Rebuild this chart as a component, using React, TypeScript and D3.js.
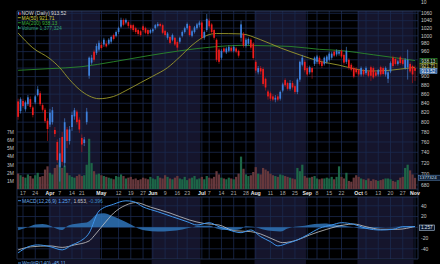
import React from 'react';
import * as d3 from 'd3';

const W = 440;
const H = 264;

const START = '2025-03-13';
const HOLIDAYS = ['2025-04-18', '2025-05-26', '2025-06-19', '2025-07-04', '2025-09-01'];

const opens = [
  844, 823, 845, 827, 838, 849, 831, 842, 858, 862,
  836, 826, 803, 795, 800, 784, 760, 712, 770, 720,
  785, 762, 790, 812, 822, 805, 768, 758, 800, 902,
  933, 960, 957, 965, 977, 978, 980, 980, 985, 1002,
  1000, 1010, 1024, 1042, 1035, 1036, 1028, 1028, 1020, 1015,
  1012, 1025, 1020, 1015, 1008, 1012, 1020, 1026, 1031, 1028,
  1013, 995, 997, 990, 995, 984, 985, 1000, 1010, 1020,
  1026, 1000, 1010, 1020, 1028, 1035, 995, 1015, 1040, 1030,
  1015, 990, 965, 945, 968, 958, 962, 970, 962, 968,
  962, 995, 1005, 975, 980, 990, 980, 935, 910, 920,
  918, 895, 866, 862, 855, 848, 855, 850, 868, 892,
  885, 872, 885, 878, 865, 893, 928, 935, 920, 910,
  920, 930, 935, 945, 935, 930, 935, 940, 945, 960,
  953, 955, 962, 952, 935, 940, 928, 920, 918, 915,
  905, 915, 908, 912, 922, 920, 910, 905, 922, 920,
  905, 895, 912, 945, 942, 930, 946, 940, 920, 922,
  930, 925, 920,
];
const highs = [
  850, 853, 850, 846, 858, 855, 835, 858, 878, 867,
  840, 830, 808, 828, 832, 790, 765, 768, 780, 808,
  790, 792, 822, 830, 826, 810, 775, 770, 830, 948,
  952, 965, 980, 988, 985, 995, 988, 994, 1000, 1006,
  1014, 1024, 1048, 1046, 1046, 1040, 1032, 1032, 1024, 1018,
  1016, 1030, 1024, 1018, 1018, 1020, 1031, 1036, 1035, 1032,
  1016, 1010, 1000, 1006, 998, 988, 998, 1014, 1024, 1035,
  1030, 1016, 1026, 1034, 1040, 1040, 1014, 1058, 1046, 1034,
  1018, 994, 970, 966, 972, 972, 976, 974, 976, 972,
  965, 1040, 1010, 994, 996, 994, 984, 940, 925, 925,
  922, 898, 870, 866, 860, 858, 860, 868, 886, 896,
  888, 892, 890, 882, 896, 938, 952, 940, 925, 926,
  924, 948, 952, 950, 940, 948, 952, 960, 960, 964,
  966, 964, 966, 956, 972, 944, 932, 924, 922, 918,
  924, 918, 924, 916, 926, 924, 914, 918, 926, 924,
  924, 914, 936, 950, 946, 940, 950, 944, 944, 965,
  934, 928, 926,
];
const lows = [
  805, 818, 830, 822, 834, 828, 810, 838, 855, 834,
  822, 798, 762, 790, 795, 770, 720, 686, 715, 712,
  748, 755, 782, 805, 795, 778, 740, 752, 795, 895,
  928, 935, 952, 960, 965, 972, 970, 976, 980, 988,
  996, 1005, 1020, 1025, 1030, 1020, 1015, 1010, 1005, 1000,
  998, 1010, 1004, 1000, 1004, 1008, 1016, 1022, 1022, 1004,
  998, 990, 978, 986, 974, 962, 980, 996, 1006, 1016,
  998, 996, 1006, 1016, 1022, 990, 990, 1010, 1020, 1005,
  990, 935, 930, 940, 956, 954, 958, 958, 958, 956,
  945, 985, 970, 970, 976, 965, 940, 908, 905, 905,
  878, 868, 848, 845, 844, 842, 844, 846, 864, 876,
  868, 868, 870, 860, 860, 888, 924, 910, 900, 905,
  895, 925, 930, 926, 920, 926, 930, 936, 940, 946,
  948, 950, 944, 928, 930, 916, 912, 896, 906, 900,
  900, 900, 904, 898, 890, 894, 898, 900, 900, 902,
  900, 885, 908, 920, 926, 926, 928, 926, 916, 893,
  908, 885, 890,
];
const closes = [
  811, 849, 834, 842, 853, 832, 815, 855, 871, 838,
  826, 802, 786, 820, 825, 776, 725, 738, 722, 800,
  762, 785, 815, 825, 800, 785, 755, 765, 822, 945,
  945, 940, 974, 982, 969, 990, 973, 990, 997, 992,
  1010, 1020, 1042, 1029, 1042, 1026, 1020, 1015, 1010, 1005,
  1002, 1015, 1008, 1005, 1015, 1017, 1028, 1031, 1026, 1008,
  1002, 1006, 982, 1002, 978, 970, 995, 1010, 1020, 1031,
  1002, 1012, 1022, 1030, 1035, 995, 1010, 1045, 1025, 1010,
  995, 940, 935, 962, 960, 968, 972, 962, 972, 960,
  950, 1030, 975, 990, 992, 970, 944, 914, 920, 912,
  883, 875, 855, 850, 848, 852, 848, 865, 882, 880,
  872, 885, 875, 865, 893, 935, 945, 915, 905, 922,
  910, 945, 948, 930, 925, 945, 948, 955, 955, 950,
  962, 960, 948, 933, 962, 921, 916, 900, 910, 905,
  920, 905, 920, 902, 902, 898, 902, 915, 905, 906,
  920, 910, 932, 925, 930, 936, 932, 930, 940, 940,
  912, 905, 913.52,
];
// volume in millions of shares
const volumes = [
  1.9, 1.7, 1.5, 1.4, 1.8, 1.6, 1.3, 1.7, 2.0, 1.5,
  1.6, 2.4, 2.8, 2.0, 1.8, 2.6, 3.0, 3.3, 2.6, 2.9,
  2.0, 1.7, 1.5, 1.4, 1.6, 1.8, 1.6, 1.7, 3.0, 6.2,
  3.2, 2.2, 1.8, 1.9, 1.7, 1.6, 1.5, 1.4, 1.3, 1.2,
  1.6, 1.5, 1.8, 1.6, 1.3, 1.4, 1.5, 1.2, 1.3, 1.1,
  1.2, 1.4, 1.3, 1.2, 1.5, 1.3, 1.2, 1.6, 1.4, 1.3,
  1.7, 1.5, 1.3, 1.2, 1.4, 1.6, 1.3, 1.2, 1.5, 1.1,
  1.3, 1.4, 1.6, 1.2, 1.3, 1.5, 1.2, 1.6, 1.4, 1.3,
  1.5, 2.2, 1.8, 1.4, 1.3, 1.2, 1.4, 1.3, 1.2, 1.5,
  1.9, 4.0, 2.5, 1.8, 1.6, 1.7, 2.1, 2.7, 1.9, 1.8,
  2.6, 2.4, 2.2, 1.9, 1.7, 1.6, 1.5, 1.8, 1.7, 1.6,
  1.5, 1.4, 1.3, 1.2, 2.6, 2.2, 3.0, 1.6, 1.4, 1.4,
  1.5, 1.6, 1.3, 1.2, 1.3, 1.3, 1.4, 1.3, 1.5, 1.2,
  1.5, 2.8, 1.5, 1.3, 2.0, 1.0, 0.9, 1.4, 1.7, 1.5,
  1.3, 1.2, 1.1, 1.3, 1.0, 1.2, 1.1, 1.0, 1.1, 1.2,
  1.3, 1.3, 1.2, 1.0, 0.9, 1.1, 1.4, 1.5, 2.6, 3.0,
  2.3, 1.8, 1.377,
];

// moving averages (trading-day index, price)
const ma50Idx = [0, 6, 13, 17, 21, 25, 29, 33, 39, 44, 50, 55, 61, 66, 71, 77, 81, 91, 99, 107, 115, 123, 131, 136, 144, 152, 160, 162];
const ma50Val = [1007.5, 969.5, 942.5, 921, 893, 870.6, 856, 850, 855, 868, 886, 901, 921, 947, 976, 1001, 1006, 1005, 990, 969.5, 952, 936.5, 927, 920, 913, 915, 920.5, 921.71];
const ma200Idx = [0, 13, 26, 39, 53, 66, 80, 91, 102, 111, 123, 131, 145, 152, 162];
const ma200Val = [914.7, 918.7, 923.4, 935.3, 949.8, 962, 972, 975.7, 974.5, 973, 965.7, 963, 952.2, 946.5, 938.13];

// MACD
const macdIdx = [0, 4, 8, 13, 18, 22, 25, 29, 33, 39, 44, 47, 51, 57, 63, 69, 73, 78, 82, 86, 91, 95, 99, 103, 106, 110, 114, 118, 123, 128, 132, 137, 142, 148, 153, 157, 162];
const macdVal = [-47.6, -36.5, -32.8, -35.9, -42, -32.8, -26.7, -10.5, 30.2, 43, 49.3, 48, 38, 29, 19.6, 10.4, 4.3, 8.5, 1.1, -5, -10, -5, -17.4, -26.7, -34.6, -29.6, -23.5, -14.3, -1.9, 4.3, 8.5, 5.6, -1.9, -5, -3.7, 1.1, 1.257];
const signalIdx = [0, 5, 13, 18, 23, 29, 31, 35, 39, 44, 48, 54, 62, 70, 76, 82, 88, 95, 99, 104, 108, 114, 119, 126, 133, 137, 142, 148, 155, 162];
const signalVal = [-42, -36.5, -34.6, -37.4, -32.8, -25.4, -16, 6, 26.5, 41.3, 46, 37.6, 26.5, 13.5, 7, 4.3, -6.3, -8.1, -12.4, -22.2, -28.5, -23.5, -14.3, -3.7, 4.3, 6.1, 1.1, -3.7, -3.7, 1.653];
const histIdx = [0, 4, 7, 10, 13, 16, 18, 20, 23, 26, 28, 30, 32, 35, 38, 42, 46, 49, 52, 57, 62, 67, 71, 74, 78, 81, 84, 88, 91, 93, 96, 100, 104, 107, 110, 113, 117, 121, 125, 129, 133, 137, 141, 145, 150, 155, 158, 162];
const histVal = [-5.6, 0, 5, 6, 3, -3, -5, 2, 6, 8, 9, 15, 24, 26, 22, 14, 5, -2, -6, -8, -7, -4, 0, 3, 3, -2, -5, -5, -3, 2, 1, -4, -7, -8, -2, 1, 3, 6, 7, 5, 3, 0, -3, -2, 0, 1, 1, -0.396];

const priceTicks = [1060, 1040, 1020, 1000, 980, 960, 940, 920, 900, 880, 860, 840, 820, 800, 780, 760, 740, 720, 700, 680];
const volTicks = [1, 2, 3, 4, 5, 6, 7];
const macdTicks = [40, 20, -20, -40];
const dateTicks: [string, string][] = [
  ['2025-03-17', '17'], ['2025-03-24', '24'], ['2025-04-01', 'Apr'], ['2025-04-07', '7'], ['2025-04-14', '14'],
  ['2025-04-21', '21'], ['2025-05-01', 'May'], ['2025-05-12', '12'], ['2025-05-19', '19'], ['2025-05-27', '27'],
  ['2025-06-02', 'Jun'], ['2025-06-09', '9'], ['2025-06-16', '16'], ['2025-06-23', '23'], ['2025-07-01', 'Jul'],
  ['2025-07-07', '7'], ['2025-07-14', '14'], ['2025-07-21', '21'], ['2025-07-28', '28'], ['2025-08-01', 'Aug'],
  ['2025-08-11', '11'], ['2025-08-18', '18'], ['2025-08-25', '25'], ['2025-09-02', 'Sep'], ['2025-09-08', '8'],
  ['2025-09-15', '15'], ['2025-09-22', '22'], ['2025-10-01', 'Oct'], ['2025-10-06', '6'], ['2025-10-13', '13'],
  ['2025-10-20', '20'], ['2025-10-27', '27'], ['2025-11-03', 'Nov'],
];

function tradingDays(n: number): string[] {
  const out: string[] = [];
  const d = new Date(START + 'T00:00:00Z');
  while (out.length < n) {
    const wd = d.getUTCDay();
    const s = d.toISOString().slice(0, 10);
    if (wd !== 0 && wd !== 6 && !HOLIDAYS.includes(s)) out.push(s);
    d.setUTCDate(d.getUTCDate() + 1);
  }
  return out;
}

const FONT = '"Liberation Sans", Arial, sans-serif';
const PL = 17;
const PR = 418;
const PT = 11;
const PB = 189;
const MT = 197;
const MB = 259;

export default function App() {
  const n = opens.length;
  const days = tradingDays(n);
  const x = d3.scaleLinear().domain([0, n - 1]).range([18.1, 415]);
  const yP = d3.scaleLog().domain([680, 1060]).range([185, 13.3]);
  const yV = d3.scaleLinear().domain([0, 7]).range([189, 132.3]);
  const yM = d3.scaleLinear().domain([-40, 40]).range([248.8, 205.8]);

  // month shading segments
  const bounds: number[] = [PL];
  for (let k = 1; k < n; k++) {
    if (days[k].slice(5, 7) !== days[k - 1].slice(5, 7)) bounds.push(x(k - 0.5));
  }
  bounds.push(PR);
  const segs = bounds.slice(0, -1).map((b, i) => ({ x0: b, x1: bounds[i + 1], navy: i % 2 === 1 }));

  const ticks = dateTicks.map(([d, label]) => ({ k: days.indexOf(d), label, month: /[A-Za-z]/.test(label) })).filter(t => t.k >= 0);

  const ma50Line = d3.line<number>().x((_, i) => x(ma50Idx[i])).y(v => yP(v)).curve(d3.curveMonotoneX)(ma50Val) || '';
  const ma200Line = d3.line<number>().x((_, i) => x(ma200Idx[i])).y(v => yP(v)).curve(d3.curveMonotoneX)(ma200Val) || '';
  const macdLine = d3.line<number>().x((_, i) => x(macdIdx[i])).y(v => yM(v)).curve(d3.curveMonotoneX)(macdVal) || '';
  const sigLine = d3.line<number>().x((_, i) => x(signalIdx[i])).y(v => yM(v)).curve(d3.curveMonotoneX)(signalVal) || '';
  const histArea = d3.area<number>().x((_, i) => x(histIdx[i])).y0(yM(0)).y1(v => yM(v)).curve(d3.curveMonotoneX)(histVal) || '';

  const gridC = '#1b2a4e';
  const bw = 1.7;
  const vw = 2.2;

  return (
    <svg width={W} height={H} style={{ position: 'fixed', left: 0, top: 0, background: '#000' }} fontFamily={FONT}>
      <rect x={0} y={0} width={W} height={H} fill="#000" />
      {/* month shading */}
      {segs.map((s, i) => (
        <g key={'s' + i}>
          <rect x={s.x0} y={PT} width={s.x1 - s.x0} height={PB - PT} fill={s.navy ? '#15152c' : '#000'} />
          <rect x={s.x0} y={MT} width={s.x1 - s.x0} height={MB - MT} fill={s.navy ? '#15152c' : '#000'} />
          <rect x={s.x0} y={MB + 1} width={s.x1 - s.x0} height={H - MB} fill={s.navy ? '#15152c' : '#000'} />
        </g>
      ))}
      {/* grid */}
      {priceTicks.map(p => (
        <line key={'hp' + p} x1={PL} x2={PR} y1={yP(p)} y2={yP(p)} stroke={gridC} strokeWidth={0.8} />
      ))}
      {[40, 20, 0, -20, -40].map(v => (
        <line key={'hm' + v} x1={PL} x2={PR} y1={yM(v)} y2={yM(v)} stroke={gridC} strokeWidth={0.8} />
      ))}
      {ticks.map(t => (
        <g key={'v' + t.k}>
          <line x1={x(t.k)} x2={x(t.k)} y1={PT} y2={PB} stroke={gridC} strokeWidth={0.8} />
          <line x1={x(t.k)} x2={x(t.k)} y1={MT} y2={MB} stroke={gridC} strokeWidth={0.8} />
        </g>
      ))}
      {/* panel borders */}
      <line x1={PL} x2={PR + 3} y1={PT} y2={PT} stroke="#34466e" strokeWidth={0.8} />
      <line x1={PL} x2={PL} y1={PT} y2={MB} stroke="#2a3a60" strokeWidth={0.8} />
      <line x1={PR} x2={PR} y1={PT} y2={MB} stroke="#2a3a60" strokeWidth={0.8} />
      <line x1={PL} x2={PR} y1={PB} y2={PB} stroke="#2a3a60" strokeWidth={0.8} />
      <line x1={PL} x2={PR} y1={MT} y2={MT} stroke="#2a3a60" strokeWidth={0.8} />
      <line x1={PL} x2={PR} y1={MB} y2={MB} stroke="#2a3a60" strokeWidth={0.8} />

      {/* volume */}
      {volumes.map((v, k) => (
        <rect key={'vol' + k} x={x(k) - vw / 2} y={yV(v)} width={vw} height={yV(0) - yV(v)}
          fill={closes[k] >= opens[k] ? '#1d6647' : '#66383c'} />
      ))}

      {/* moving averages */}
      <path d={ma200Line} fill="none" stroke="#2a8a2a" strokeWidth={0.9} />
      <path d={ma50Line} fill="none" stroke="#9c9a2c" strokeWidth={0.9} />

      {/* candles */}
      {opens.map((o, k) => {
        const c = closes[k];
        const up = c >= o;
        const col = up ? '#3d80dc' : '#f01c1c';
        const top = yP(Math.max(o, c));
        const bot = yP(Math.min(o, c));
        return (
          <g key={'c' + k}>
            <line x1={x(k)} x2={x(k)} y1={yP(highs[k])} y2={yP(lows[k])} stroke={up ? '#4a8ae0' : '#c01818'} strokeWidth={0.6} />
            <rect x={x(k) - bw / 2} y={top} width={bw} height={Math.max(0.7, bot - top)} fill={col} />
          </g>
        );
      })}

      {/* MACD */}
      <path d={histArea} fill="#2f74b8" fillOpacity={0.85} />
      <path d={sigLine} fill="none" stroke="#c8c8c8" strokeWidth={0.8} />
      <path d={macdLine} fill="none" stroke="#3f95ec" strokeWidth={1} />

      {/* right price axis */}
      <text x={421} y={4} fontSize={5} fill="#c8c8c8">10</text>
      {priceTicks.map(p => (
        <text key={'tp' + p} x={421} y={yP(p) + 1.8} fontSize={5} fill="#c8c8c8">{p}</text>
      ))}
      {/* left volume axis */}
      {volTicks.map(v => (
        <text key={'tv' + v} x={14} y={yV(v) + 1.8} fontSize={5} fill="#c0c0c0" textAnchor="end">{v}M</text>
      ))}
      {/* macd axis */}
      {macdTicks.map(v => (
        <text key={'tm' + v} x={421} y={yM(v) + 1.8} fontSize={5} fill="#c8c8c8">{v}</text>
      ))}
      {/* date labels */}
      {ticks.map(t => (
        <text key={'td' + t.k} x={x(t.k)} y={194.8} fontSize={5.2} textAnchor="middle"
          fill={t.month ? '#e8e8e8' : '#a8a8a8'} fontWeight={t.month ? 'bold' : 'normal'}>{t.label}</text>
      ))}

      {/* value boxes */}
      <rect x={420} y={58.3} width={17} height={5.2} fill="#061206" stroke="#2f9a2f" strokeWidth={0.6} />
      <text x={421.3} y={62.6} fontSize={4.6} fill="#d8e8d8">938.13</text>
      <rect x={420} y={63.6} width={17} height={5} fill="#121206" stroke="#a0a030" strokeWidth={0.6} />
      <text x={421.3} y={67.6} fontSize={4.6} fill="#e0e0a0">921.71</text>
      <rect x={420} y={68.4} width={17} height={5.2} fill="#2a5c9c" stroke="#7aa6d8" strokeWidth={0.6} />
      <text x={421.3} y={72.7} fontSize={4.6} fill="#ffffff">913.52</text>
      <rect x={418.5} y={175.2} width={22} height={5} fill="#0c1a30" stroke="#5a8ac0" strokeWidth={0.6} />
      <text x={419.5} y={179.3} fontSize={4.4} fill="#d0e0f0">1377324</text>
      <rect x={419.5} y={225} width={15} height={5.4} fill="#0c1a30" stroke="#a8c0d8" strokeWidth={0.6} />
      <text x={421} y={229.4} fontSize={4.6} fill="#e0e8f0">1.257</text>

      {/* legends */}
      <rect x={18} y={11.8} width={1.2} height={3} fill="#3d80dc" />
      <rect x={19.4} y={12.5} width={1.2} height={2.5} fill="#f01c1c" />
      <text x={21.5} y={15.1} fontSize={5} fill="#d8d8d8">NOW (Daily) 913.52</text>
      <line x1={17.8} x2={20.8} y1={17.7} y2={17.7} stroke="#b8b830" strokeWidth={0.9} />
      <text x={21.5} y={19.5} fontSize={5} fill="#d0d040">MA(50) 921.71</text>
      <line x1={17.8} x2={20.8} y1={22.7} y2={22.7} stroke="#2a9a2a" strokeWidth={0.9} />
      <text x={21.5} y={24.5} fontSize={5} fill="#3aae3a">MA(200) 938.13</text>
      <rect x={18} y={26} width={1} height={3} fill="#2a9a6a" />
      <rect x={19.4} y={27} width={1} height={2} fill="#2a9a6a" />
      <text x={21.5} y={29.5} fontSize={5} fill="#30a070">Volume 1,377,324</text>

      <line x1={18} x2={21} y1={200.7} y2={200.7} stroke="#3f95ec" strokeWidth={0.9} />
      <text x={22} y={202.5} fontSize={5}>
        <tspan fill="#6aaae8">MACD(12,26,9) </tspan>
        <tspan fill="#5aa8f0">1.257, </tspan>
        <tspan fill="#c8c8c8">1.653, </tspan>
        <tspan fill="#3a8ac8">-0.396</tspan>
      </text>
      <line x1={18} x2={21} y1={263} y2={263} stroke="#3f95ec" strokeWidth={0.9} />
      <text x={22} y={264.6} fontSize={5} fill="#6aaae8">Wm%R(140) -45.11</text>
    </svg>
  );
}
